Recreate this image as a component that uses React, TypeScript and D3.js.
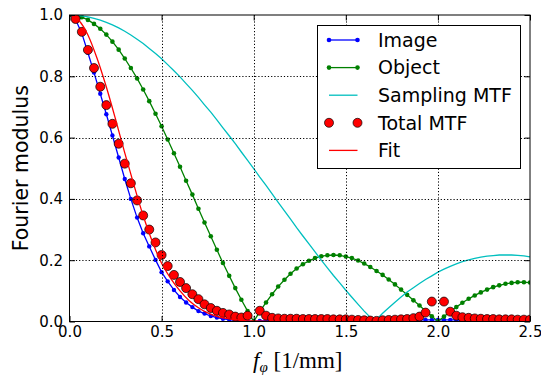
import React, { useRef, useEffect } from 'react';
import * as d3 from 'd3';

// spatial frequency samples [1/mm]
const freq = [
	0, 0.033, 0.067, 0.1, 0.133, 0.167, 0.2, 0.233, 0.267, 0.3, 0.333, 0.367, 0.4, 0.433, 0.467, 0.5,
	0.533, 0.567, 0.6, 0.633, 0.667, 0.7, 0.733, 0.767, 0.8, 0.833, 0.867, 0.9, 0.933, 0.967, 1.0,
	1.033, 1.067, 1.1, 1.133, 1.167, 1.2, 1.233, 1.267, 1.3, 1.333, 1.367, 1.4, 1.433, 1.467, 1.5,
	1.533, 1.567, 1.6, 1.633, 1.667, 1.7, 1.733, 1.767, 1.8, 1.833, 1.867, 1.9, 1.933, 1.967, 2.0,
	2.033, 2.067, 2.1, 2.133, 2.167, 2.2, 2.233, 2.267, 2.3, 2.333, 2.367, 2.4, 2.433, 2.467, 2.5,
];

const imageMod = [
	1.0, 0.985, 0.940, 0.877, 0.812, 0.743, 0.676, 0.607, 0.535, 0.465, 0.400, 0.339, 0.288, 0.245, 0.201, 0.161,
	0.131, 0.103, 0.080, 0.062, 0.047, 0.034, 0.026, 0.018, 0.013, 0.009, 0.006, 0.004, 0.002, 0.001, 0.0,
	0.002, 0.003, 0.003, 0.003, 0.004, 0.004, 0.004, 0.004, 0.004, 0.004, 0.004, 0.004, 0.004, 0.004, 0.004,
	0.003, 0.003, 0.002, 0.001, 0.001, 0.002, 0.002, 0.003, 0.003, 0.004, 0.004, 0.005, 0.005, 0.005, 0.005,
	0.005, 0.005, 0.005, 0.004, 0.004, 0.004, 0.003, 0.003, 0.003, 0.003, 0.003, 0.002, 0.002, 0.002, 0.002,
];

const objectMod = [
	1.0, 0.998, 0.993, 0.984, 0.971, 0.955, 0.936, 0.913, 0.887, 0.858, 0.827, 0.793, 0.757, 0.719, 0.678, 0.637,
	0.594, 0.549, 0.505, 0.459, 0.414, 0.368, 0.323, 0.278, 0.234, 0.191, 0.149, 0.109, 0.071, 0.034, 0.0,
	0.032, 0.062, 0.089, 0.114, 0.136, 0.156, 0.173, 0.187, 0.198, 0.207, 0.213, 0.216, 0.217, 0.216, 0.212,
	0.207, 0.199, 0.189, 0.178, 0.165, 0.152, 0.137, 0.121, 0.104, 0.087, 0.069, 0.052, 0.034, 0.017, 0.0,
	0.016, 0.032, 0.047, 0.061, 0.074, 0.085, 0.095, 0.104, 0.112, 0.118, 0.123, 0.126, 0.128, 0.128, 0.127,
];

const samplingMtf = [
	1.0, 0.999, 0.997, 0.994, 0.989, 0.983, 0.976, 0.968, 0.958, 0.947, 0.935, 0.921, 0.907, 0.891, 0.874, 0.857,
	0.838, 0.818, 0.798, 0.776, 0.754, 0.731, 0.707, 0.683, 0.658, 0.632, 0.606, 0.580, 0.553, 0.526, 0.499,
	0.471, 0.444, 0.416, 0.389, 0.361, 0.334, 0.306, 0.279, 0.253, 0.227, 0.200, 0.175, 0.150, 0.126, 0.102,
	0.079, 0.056, 0.034, 0.013, 0.007, 0.027, 0.045, 0.063, 0.080, 0.096, 0.110, 0.124, 0.137, 0.149, 0.161,
	0.171, 0.180, 0.188, 0.195, 0.201, 0.206, 0.210, 0.213, 0.215, 0.217, 0.217, 0.217, 0.216, 0.214, 0.211,
];

// null where the object modulus is zero (no value plotted)
const totalMtf = [
	null, 0.987, 0.945, 0.886, 0.827, 0.766, 0.706, 0.645, 0.580, 0.515, 0.451, 0.395, 0.346, 0.300, 0.258, 0.217,
	0.181, 0.152, 0.129, 0.109, 0.089, 0.073, 0.056, 0.044, 0.035, 0.028, 0.023, 0.016, 0.013, 0.019, null,
	0.035, 0.019, 0.012, 0.010, 0.009, 0.009, 0.009, 0.008, 0.008, 0.008, 0.008, 0.008, 0.007, 0.007, 0.007,
	0.006, 0.005, 0.004, 0.003, 0.002, 0.004, 0.005, 0.006, 0.007, 0.008, 0.011, 0.016, 0.029, 0.065, null,
	0.065, 0.032, 0.019, 0.014, 0.012, 0.010, 0.009, 0.008, 0.008, 0.007, 0.007, 0.007, 0.006, 0.006, 0.006,
];

const fitFreq = [0, 0.05, 0.1, 0.15, 0.2, 0.25, 0.3, 0.35, 0.4, 0.45, 0.5, 0.55, 0.6, 0.65, 0.7, 0.75, 0.8, 0.85, 0.9, 0.95, 1.0, 1.05, 1.1];
const fitVals = [1.0, 0.983, 0.935, 0.858, 0.765, 0.66, 0.55, 0.445, 0.345, 0.26, 0.19, 0.14, 0.10, 0.068, 0.045, 0.028, 0.017, 0.010, 0.006, 0.003, 0.002, 0.001, 0.0];

const xTicks = [0, 0.5, 1.0, 1.5, 2.0, 2.5];
const yTicks = [0, 0.2, 0.4, 0.6, 0.8, 1.0];
const legendLabels = ['Image', 'Object', 'Sampling MTF', 'Total MTF', 'Fit'];

type Pt = { f: number; v: number };

const App: React.FC = () => {
	const svgRef = useRef<SVGSVGElement | null>(null);

	const width = 541;
	const height = 376;
	const left = 69.5;
	const right = 530;
	const top = 15;
	const bottom = 321.5;

	useEffect(() => {
		if (!svgRef.current) return;
		const svg = d3.select(svgRef.current);
		svg.selectAll('*').remove();

		const x = d3.scaleLinear([0, 2.5], [left, right]);
		const y = d3.scaleLinear([0, 1], [bottom, top]);

		const toPts = (vals: (number | null)[], fs: number[]) =>
			vals.map((v, i) => ({ f: fs[i], v })).filter(d => d.v !== null) as Pt[];

		const line = d3.line<Pt>().x(d => x(d.f)).y(d => y(d.v));
		const smooth = d3.line<Pt>().x(d => x(d.f)).y(d => y(d.v)).curve(d3.curveMonotoneX);

		svg.append('defs').append('clipPath').attr('id', 'plotclip')
			.append('rect')
			.attr('x', left).attr('y', top)
			.attr('width', right - left).attr('height', bottom - top);

		svg.append('rect').attr('width', width).attr('height', height).attr('fill', '#fff');

		const plot = svg.append('g').attr('clip-path', 'url(#plotclip)');

		// Image
		const imgPts = toPts(imageMod, freq);
		plot.append('path').datum(imgPts)
			.attr('fill', 'none').attr('stroke', '#0000ff').attr('stroke-width', 1.3).attr('d', line);
		plot.append('g').selectAll('circle').data(imgPts).join('circle')
			.attr('cx', d => x(d.f)).attr('cy', d => y(d.v)).attr('r', 2.2).attr('fill', '#0000ff');

		// Object
		const objPts = toPts(objectMod, freq);
		plot.append('path').datum(objPts)
			.attr('fill', 'none').attr('stroke', '#008000').attr('stroke-width', 1.3).attr('d', line);
		plot.append('g').selectAll('circle').data(objPts).join('circle')
			.attr('cx', d => x(d.f)).attr('cy', d => y(d.v)).attr('r', 2.3).attr('fill', '#008000');

		// Sampling MTF
		plot.append('path').datum(toPts(samplingMtf, freq))
			.attr('fill', 'none').attr('stroke', '#00bfbf').attr('stroke-width', 1.3).attr('d', line);

		// Total MTF
		plot.append('g').selectAll('circle').data(toPts(totalMtf, freq)).join('circle')
			.attr('cx', d => x(d.f)).attr('cy', d => y(d.v)).attr('r', 4.5)
			.attr('fill', '#ff0000').attr('stroke', '#000').attr('stroke-width', 0.7);

		// Fit
		plot.append('path').datum(toPts(fitVals, fitFreq))
			.attr('fill', 'none').attr('stroke', '#ff0000').attr('stroke-width', 1.3).attr('d', smooth);

		// Grid (dotted)
		const grid = svg.append('g').attr('stroke', '#000').attr('stroke-width', 1).attr('stroke-dasharray', '1.2,2');
		xTicks.slice(1, -1).forEach(t => {
			grid.append('line').attr('x1', Math.round(x(t)) + 0.5).attr('x2', Math.round(x(t)) + 0.5)
				.attr('y1', top).attr('y2', bottom);
		});
		yTicks.slice(1, -1).forEach(t => {
			grid.append('line').attr('y1', Math.round(y(t)) + 0.5).attr('y2', Math.round(y(t)) + 0.5)
				.attr('x1', left).attr('x2', right);
		});

		// Axes (ticks pointing inward on all four sides)
		const tickFont = (g: d3.Selection<SVGGElement, unknown, null, undefined>) => {
			g.attr('font-family', '"DejaVu Sans", sans-serif').attr('font-size', 15);
			g.select('.domain').remove();
			g.selectAll('line').attr('stroke', '#000');
			g.selectAll('text').attr('fill', '#000');
		};
		svg.append('g').attr('transform', `translate(0,${bottom})`)
			.call(d3.axisBottom(x).tickValues(xTicks).tickFormat(d3.format('.1f')).tickSize(-5.5).tickPadding(5))
			.call(tickFont);
		svg.append('g').attr('transform', `translate(${left},0)`)
			.call(d3.axisLeft(y).tickValues(yTicks).tickFormat(d3.format('.1f')).tickSize(-5.5).tickPadding(6.5))
			.call(tickFont);
		svg.append('g').attr('transform', `translate(0,${top})`)
			.call(d3.axisTop(x).tickValues(xTicks).tickFormat(() => '').tickSize(-5.5))
			.call(tickFont);
		svg.append('g').attr('transform', `translate(${right},0)`)
			.call(d3.axisRight(y).tickValues(yTicks).tickFormat(() => '').tickSize(-5.5))
			.call(tickFont);

		// Frame
		svg.append('rect')
			.attr('x', left).attr('y', top).attr('width', right - left).attr('height', bottom - top)
			.attr('fill', 'none').attr('stroke', '#000').attr('stroke-width', 1);

		// Axis labels
		svg.append('text')
			.attr('transform', `translate(28,${(top + bottom) / 2}) rotate(-90)`)
			.attr('text-anchor', 'middle')
			.attr('font-family', '"DejaVu Sans", sans-serif')
			.attr('font-size', 20.5)
			.text('Fourier modulus');

		const xl = svg.append('text')
			.attr('x', (left + right) / 2 - 2).attr('y', 368)
			.attr('text-anchor', 'middle')
			.attr('font-family', '"Liberation Serif", serif')
			.attr('font-size', 23);
		xl.append('tspan').attr('font-style', 'italic').text('f');
		xl.append('tspan').attr('font-style', 'italic').attr('font-size', 15).attr('dy', 4).text('φ');
		xl.append('tspan').attr('dy', -4).text('\u00a0[1/mm]');

		// Legend
		const lg = svg.append('g');
		lg.append('rect').attr('x', 317.5).attr('y', 25.5).attr('width', 203).attr('height', 143)
			.attr('fill', '#fff').attr('stroke', '#000').attr('stroke-width', 1);
		const hx0 = 329;
		const hx1 = 357.5;
		legendLabels.forEach((label, i) => {
			const ly = 40 + i * 27.6;
			const g = lg.append('g');
			if (i === 0 || i === 1) {
				const c = i === 0 ? '#0000ff' : '#008000';
				g.append('line').attr('x1', hx0).attr('x2', hx1).attr('y1', ly).attr('y2', ly)
					.attr('stroke', c).attr('stroke-width', 1.3);
				[hx0, hx1].forEach(cx => g.append('circle').attr('cx', cx).attr('cy', ly).attr('r', 2.3).attr('fill', c));
			} else if (i === 2 || i === 4) {
				const c = i === 2 ? '#00bfbf' : '#ff0000';
				g.append('line').attr('x1', hx0).attr('x2', hx1).attr('y1', ly).attr('y2', ly)
					.attr('stroke', c).attr('stroke-width', 1.3);
			} else {
				[hx0, hx1].forEach(cx => g.append('circle').attr('cx', cx).attr('cy', ly).attr('r', 4.5)
					.attr('fill', '#ff0000').attr('stroke', '#000').attr('stroke-width', 0.7));
			}
			g.append('text')
				.attr('x', 378).attr('y', ly).attr('dy', '0.36em')
				.attr('font-family', '"DejaVu Sans", sans-serif')
				.attr('font-size', 19)
				.text(label);
		});
	}, []);

	return (
		<div style={{ position: 'absolute', left: 0, top: 0 }}>
			<svg ref={svgRef} width={width} height={height} style={{ display: 'block' }} />
		</div>
	);
};

export default App;
